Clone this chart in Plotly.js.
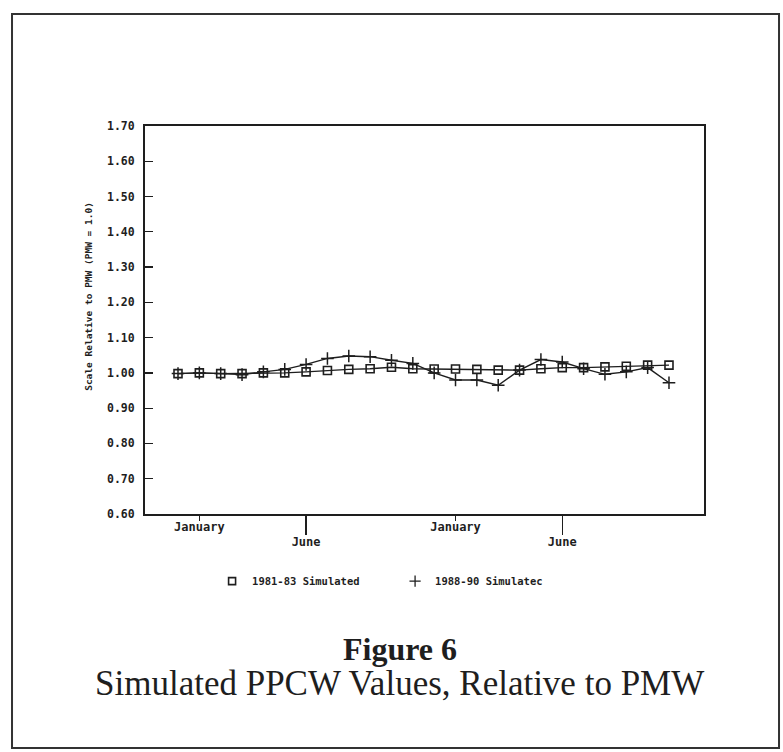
<!DOCTYPE html>
<html>
<head>
<meta charset="utf-8">
<script src="https://cdn.plot.ly/plotly-3.0.1.min.js"></script>
<style>
html,body{margin:0;padding:0;background:#fff;}
#chart{width:783px;height:752px;}
</style>
</head>
<body>
<div id="chart"></div>
<script>
// Month positions: index 0 = December, 1 = January, ... 23 = November (two years)
var monthIndex = [0,1,2,3,4,5,6,7,8,9,10,11,12,13,14,15,16,17,18,19,20,21,22,23];
var sim8183 = [0.998,1.000,0.998,0.998,1.000,1.000,1.003,1.007,1.010,1.012,1.016,1.012,1.011,1.011,1.010,1.008,1.008,1.012,1.015,1.015,1.017,1.019,1.022,1.022];
var sim8890 = [0.998,1.000,0.998,0.995,1.003,1.010,1.024,1.041,1.048,1.046,1.036,1.027,1.000,0.980,0.980,0.965,1.008,1.038,1.031,1.012,0.996,1.003,1.015,0.972];
var janTicks = [1,13];
var janLabels = ['January','January'];
var juneTicks = [6,18];
var juneLabels = ['June','June'];
var yTickVals = [0.6,0.7,0.8,0.9,1.0,1.1,1.2,1.3,1.4,1.5,1.6,1.7];
var yTickText = ['0.60','0.70','0.80','0.90','1.00','1.10','1.20','1.30','1.40','1.50','1.60','1.70'];
var seriesNames = ['1981-83 Simulated','1988-90 Simulatec'];

var ink = '#1e1e1e';
var tickFont = {family:'DejaVu Sans Mono, monospace', size:11.5, color:ink, weight:'bold'};
var xTickFont = {family:'DejaVu Sans Mono, monospace', size:12, color:ink, weight:'bold'};

var traces = [
  {x:monthIndex, y:sim8183, mode:'lines+markers', showlegend:false,
   line:{color:ink, width:1.4},
   marker:{symbol:'square-open', size:8, color:ink, line:{width:1.6, color:ink}}},
  {x:monthIndex, y:sim8890, mode:'lines+markers', showlegend:false,
   line:{color:ink, width:1.4},
   marker:{symbol:'cross-thin-open', size:9, color:ink, line:{width:1.5, color:ink}}},
  {x:[null], y:[null], mode:'markers', name:seriesNames[0],
   marker:{symbol:'square-open', size:7, color:ink, line:{width:1.6, color:ink}}},
  {x:[null], y:[null], mode:'markers', name:seriesNames[1],
   marker:{symbol:'cross-thin-open', size:8, color:ink, line:{width:1.3, color:ink}}},
  {x:[null], y:[null], xaxis:'x2', yaxis:'y', showlegend:false, hoverinfo:'skip'}
];

var xr = [-1.546, 24.64];
var layout = {
  width:783, height:752,
  margin:{l:145, r:79, t:126, b:238},
  paper_bgcolor:'#fff', plot_bgcolor:'#fff',
  showlegend:true,
  legend:{orientation:'h', x:0.12, xanchor:'left', y:-0.173, yanchor:'middle',
          font:{family:'DejaVu Sans Mono, monospace', size:10.5, color:ink, weight:'bold'},
          itemwidth:30, entrywidth:138, entrywidthmode:'pixels', tracegroupgap:0, bgcolor:'rgba(0,0,0,0)'},
  xaxis:{range:xr, tickmode:'array', tickvals:janTicks, ticktext:janLabels,
         ticks:'outside', ticklen:5, tickwidth:1.2, tickcolor:ink, ticklabelstandoff:-4,
         showline:true, linecolor:ink, linewidth:2, mirror:true,
         showgrid:false, zeroline:false, tickfont:xTickFont},
  xaxis2:{range:xr, overlaying:'x', anchor:'y', side:'bottom', tickmode:'array',
          tickvals:juneTicks, ticktext:juneLabels, ticklabelstandoff:-3,
          ticks:'outside', ticklen:20, tickwidth:1.2, tickcolor:ink,
          showline:false, showgrid:false, zeroline:false, tickfont:xTickFont},
  yaxis:{range:[0.6,1.7], tickmode:'array', tickvals:yTickVals, ticktext:yTickText,
         ticks:'inside', ticklen:8, tickwidth:1.2, tickcolor:ink, ticklabelstandoff:6,
         showline:true, linecolor:ink, linewidth:2, mirror:true,
         showgrid:false, zeroline:false, tickfont:tickFont},
  annotations:[
    {text:'Scale Relative to PMW (PMW = 1.0)', xref:'paper', yref:'paper',
     x:-0.1, y:0.56, xanchor:'center', yanchor:'middle', textangle:-90, showarrow:false,
     font:{family:'DejaVu Sans Mono, monospace', size:9.5, color:ink, weight:'bold'}},
    {text:'<b>Figure 6</b>', xref:'paper', yref:'paper', x:0.456, y:-0.348,
     xanchor:'center', yanchor:'middle', showarrow:false,
     font:{family:'Liberation Serif, Times New Roman, serif', size:32, color:ink}},
    {text:'Simulated PPCW Values, Relative to PMW', xref:'paper', yref:'paper', x:0.456, y:-0.437,
     xanchor:'center', yanchor:'middle', showarrow:false,
     font:{family:'Liberation Serif, Times New Roman, serif', size:35, color:ink}}
  ],
  shapes:[
    {type:'rect', xref:'paper', yref:'paper', x0:-0.2379, x1:1.1342, y0:-0.603, y1:1.2887,
     line:{color:'#333', width:2}, fillcolor:'rgba(0,0,0,0)'}
  ]
};

Plotly.newPlot('chart', traces, layout, {staticPlot:true, displayModeBar:false});
</script>
</body>
</html>
